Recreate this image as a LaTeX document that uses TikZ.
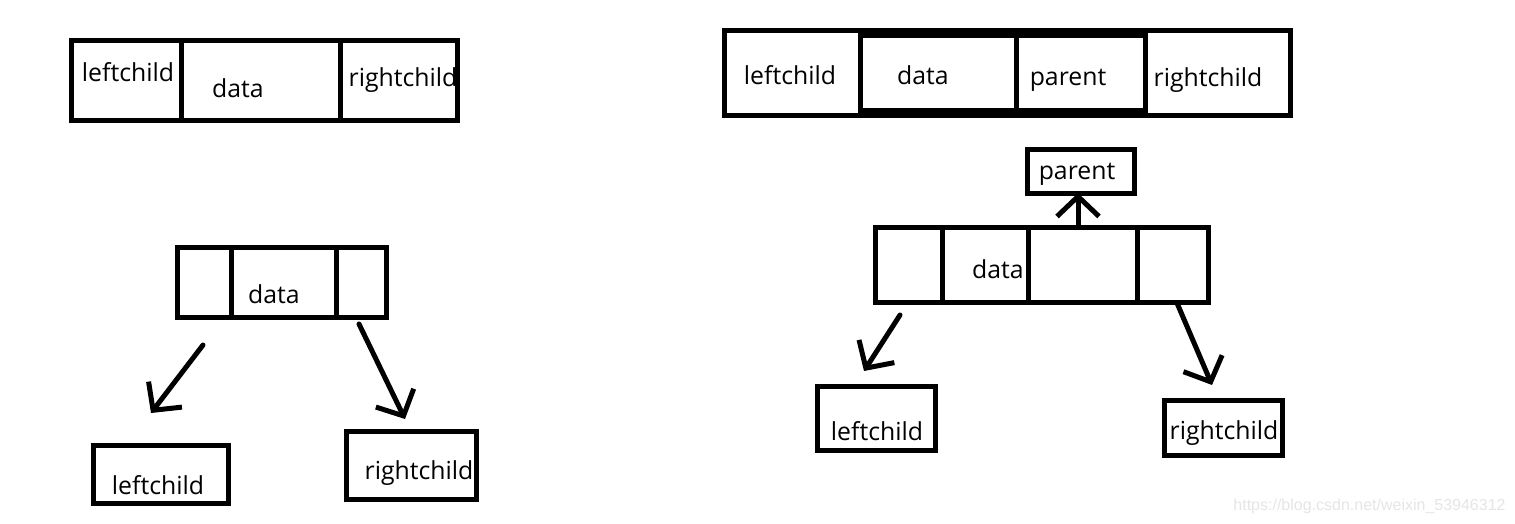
\documentclass[tikz,border=0pt]{standalone}
\usepackage{fontspec}
\setmainfont{Open Sans}
\newfontfamily\markfont{Liberation Sans}
\usetikzlibrary{arrows.meta,positioning}

\begin{document}
\begin{tikzpicture}[
  x=0.5pt, y=-0.5pt,
  cell/.style={draw, line width=2.5pt, inner sep=0pt, outer sep=0pt},
  lbl/.style={font=\fontsize{12.4}{14}\selectfont, inner sep=0pt},
  arr/.style={line width=2.5pt, line cap=round, -{Straight Barb[length=10pt, width=21pt]}}
]
\useasboundingbox (0,0) rectangle (1515,524);

% binary node: leftchild | data | rightchild
\node[cell, minimum width=55pt, minimum height=40pt, anchor=west] (tl1) at (71,81) {};
\node[cell, minimum width=79.5pt, minimum height=40pt, right=0pt of tl1] (tl2) {};
\node[cell, minimum width=58.5pt, minimum height=40pt, right=0pt of tl2] (tl3) {};
\node[lbl] (tl1t) at (128,72) {leftchild};
\node[lbl] (tl2t) at (238,88) {data};
\node[lbl] (tl3t) at (403,80) {rightchild};

% triple node: leftchild | data | parent | rightchild
\node[cell, minimum width=68pt, minimum height=42.5pt, anchor=west] (tr1) at (724,73.5) {};
\node[cell, minimum width=78pt, minimum height=42.5pt, right=0pt of tr1] (tr2) {};
\node[cell, minimum width=64.5pt, minimum height=42.5pt, right=0pt of tr2] (tr3) {};
\node[cell, minimum width=72.5pt, minimum height=42.5pt, right=0pt of tr3] (tr4) {};
\draw[line width=2.5pt] ([yshift=-2.5pt]tr2.north west) rectangle ([yshift=2.5pt]tr3.south east);
\node[lbl] (tr1t) at (790,75) {leftchild};
\node[lbl] (tr2t) at (923,75) {data};
\node[lbl] (tr3t) at (1068,80) {parent};
\node[lbl] (tr4t) at (1208,80) {rightchild};

% binary tree
\node[cell, minimum width=27pt, minimum height=35pt, anchor=west] (bl1) at (177,282) {};
\node[cell, minimum width=52.5pt, minimum height=35pt, right=0pt of bl1] (bl2) {};
\node[cell, minimum width=25pt, minimum height=35pt, right=0pt of bl2] (bl3) {};
\node[lbl] (bl2t) at (274,294) {data};
\node[cell, minimum width=67.5pt, minimum height=29pt] (lc1) at (160.7,474) {};
\node[lbl] (lc1t) at (158,485) {leftchild};
\node[cell, minimum width=65pt, minimum height=34pt] (rc1) at (411,465) {};
\node[lbl] (rc1t) at (419,473) {rightchild};
\coordinate (a1s) at (203,345);
\coordinate (a1e) at (151,413);
\coordinate (a2s) at (359,324);
\coordinate (a2e) at (405,419);
\draw[arr] (a1s) -- (a1e);
\draw[arr] (a2s) -- (a2e);

% triple tree
\node[cell, minimum width=53.5pt, minimum height=21.5pt] (par) at (1081,171.5) {};
\node[lbl] (part) at (1077,174) {parent};
\node[cell, minimum width=33.5pt, minimum height=37.5pt, anchor=west] (mr1) at (875,264.5) {};
\node[cell, minimum width=43pt, minimum height=37.5pt, right=0pt of mr1] (mr2) {};
\node[cell, minimum width=54.5pt, minimum height=37.5pt, right=0pt of mr2] (mr3) {};
\node[cell, minimum width=35.5pt, minimum height=37.5pt, right=0pt of mr3] (mr4) {};
\node[lbl] (mr2t) at (998,269) {data};
\node[cell, minimum width=59pt, minimum height=32pt] (lc2) at (876,418.7) {};
\node[lbl] (lc2t) at (877,431) {leftchild};
\node[cell, minimum width=59.3pt, minimum height=27.5pt] (rc2) at (1223.3,427.5) {};
\node[lbl] (rc2t) at (1224,433) {rightchild};
\coordinate (a3s) at (900,315);
\coordinate (a3e) at (864,371);
\coordinate (a4s) at (1177,303);
\coordinate (a4e) at (1212,385);
\draw[arr] (mr3.north -| 1078,0) -- (par.south -| 1078,0);
\draw[arr] (a3s) -- (a3e);
\draw[arr] (a4s) -- (a4e);

\node[font=\markfont\fontsize{8}{9}\selectfont, text=black!10, anchor=east, inner sep=0pt] (wm) at (1506,506) {https://blog.csdn.net/weixin\_53946312};
\end{tikzpicture}
\end{document}
